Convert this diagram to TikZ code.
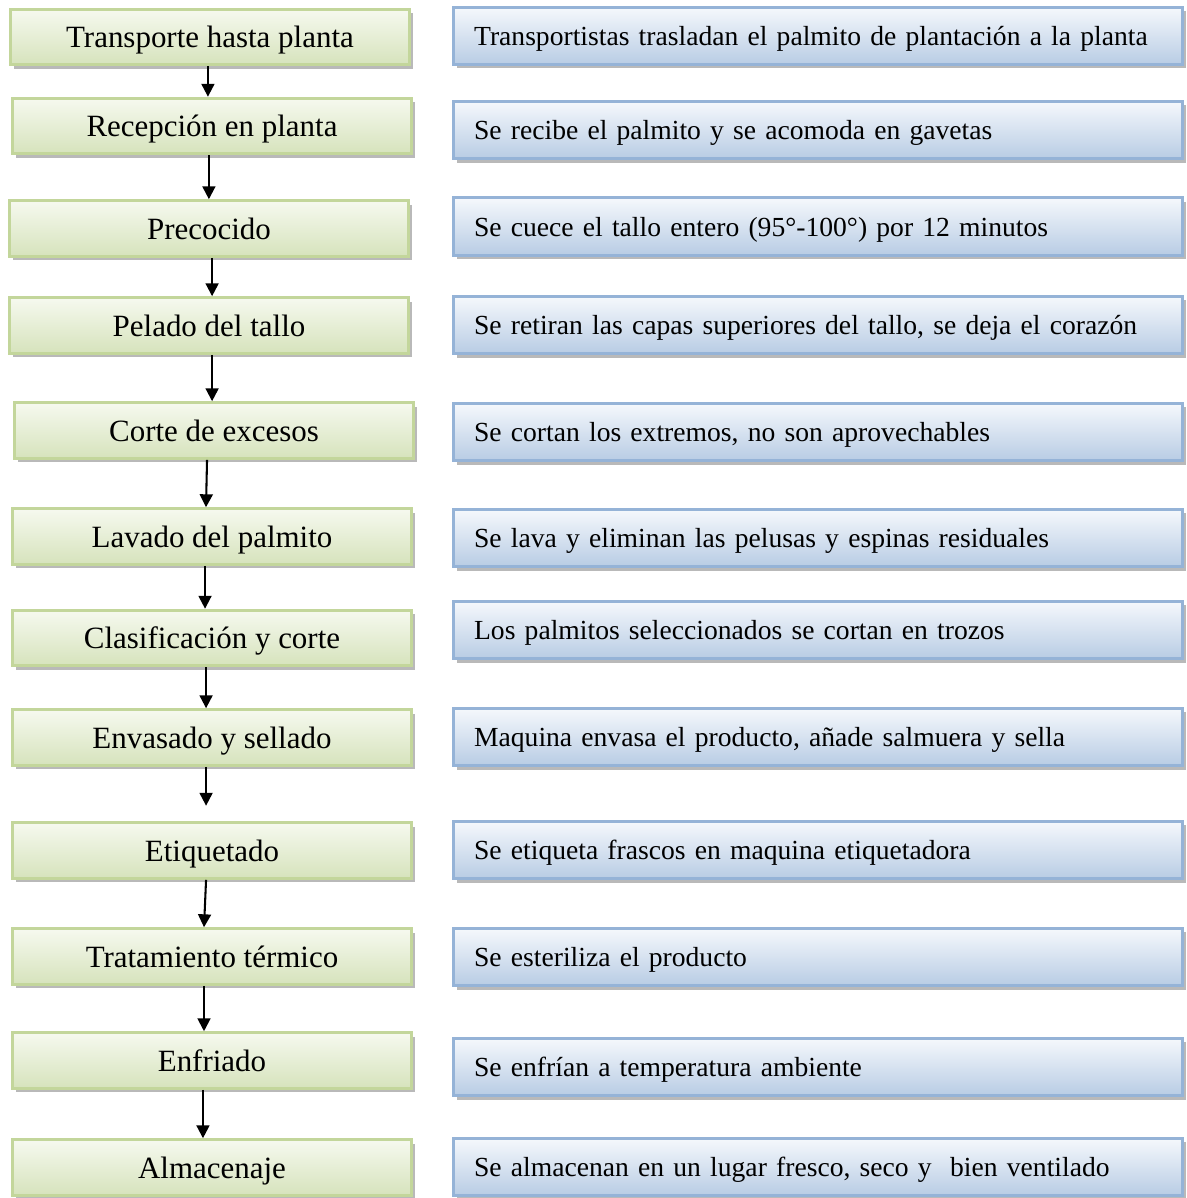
\documentclass[tikz,border=0pt]{standalone}
\usepackage{fontspec}
\setmainfont{Liberation Serif}
\usetikzlibrary{arrows.meta, shadows}

\definecolor{stageline}{HTML}{C3D69B}
\definecolor{stagetop}{HTML}{F6F9EF}
\definecolor{stagebottom}{HTML}{D6E3BC}
\definecolor{noteline}{HTML}{95B3D7}
\definecolor{notetop}{HTML}{F5F8FC}
\definecolor{notebottom}{HTML}{B8CCE4}

\begin{document}
\begin{tikzpicture}[
    x=0.3876pt, y=-0.3876pt,
    stage/.style={
        rectangle,
        draw=stageline,
        line width=1.1pt,
        top color=stagetop,
        bottom color=stagebottom,
        minimum width=154.7pt,
        minimum height=21.6pt,
        inner sep=0pt,
        align=center,
        text depth=0pt,
        font=\fontsize{12}{14}\selectfont,
        drop shadow={shadow xshift=1.2pt, shadow yshift=-1.5pt, fill=gray!55, opacity=1},
    },
    note/.style={
        rectangle,
        draw=noteline,
        line width=1.1pt,
        top color=notetop,
        bottom color=notebottom,
        minimum width=282.6pt,
        minimum height=22.2pt,
        inner xsep=8pt,
        inner ysep=0pt,
        text width=266.6pt,
        text depth=0pt,
        align=left,
        font=\fontsize{10.7}{13}\selectfont,
        drop shadow={shadow xshift=1.2pt, shadow yshift=-1.5pt, fill=gray!55, opacity=1},
    },
    flow/.style={
        line width=0.8pt,
        -{Triangle[width=5pt, length=5pt]},
    }
]
    \useasboundingbox (0,0) rectangle (1186,1198);

    % Stages
    \node[stage] (transporte)    at (210,37)     {Transporte hasta planta};
    \node[stage] (recepcion)     at (212,126)    {Recepción en planta};
    \node[stage] (precocido)     at (209,228.5)  {Precocido};
    \node[stage] (pelado)        at (209,325.5)  {Pelado del tallo};
    \node[stage] (corte)         at (214,430.5)  {Corte de excesos};
    \node[stage] (lavado)        at (212,536.5)  {Lavado del palmito};
    \node[stage] (clasificacion) at (212,638)    {Clasificación y corte};
    \node[stage] (envasado)      at (212,737.5)  {Envasado y sellado};
    \node[stage] (etiquetado)    at (212,850.5)  {Etiquetado};
    \node[stage] (tratamiento)   at (212,956.5)  {Tratamiento térmico};
    \node[stage] (enfriado)      at (212,1060.5) {Enfriado};
    \node[stage] (almacenaje)    at (212,1167.5) {Almacenaje};

    % Descriptions
    \node[note] (transporte-d)    at (818,36)   {Transportistas trasladan el palmito de plantación a la planta};
    \node[note] (recepcion-d)     at (818,130)  {Se recibe el palmito y se acomoda en gavetas};
    \node[note] (precocido-d)     at (818,226.5){Se cuece el tallo entero (95°-100°) por 12 minutos};
    \node[note] (pelado-d)        at (818,325)  {Se retiran las capas superiores del tallo, se deja el corazón};
    \node[note] (corte-d)         at (818,432)  {Se cortan los extremos, no son aprovechables};
    \node[note] (lavado-d)        at (818,538)  {Se lava y eliminan las pelusas y espinas residuales};
    \node[note] (clasificacion-d) at (818,630)  {Los palmitos seleccionados se cortan en trozos};
    \node[note] (envasado-d)      at (818,737)  {Maquina envasa el producto, añade salmuera y sella};
    \node[note] (etiquetado-d)    at (818,850)  {Se etiqueta frascos en maquina etiquetadora};
    \node[note] (tratamiento-d)   at (818,957)  {Se esteriliza el producto};
    \node[note] (enfriado-d)      at (818,1067) {Se enfrían a temperatura ambiente};
    \node[note] (almacenaje-d)    at (818,1167) {Se almacenan en un lugar fresco, seco y \ bien ventilado};

    % Flow
    \draw[flow] ([xshift=-0.8pt]transporte.south) -- ([xshift=-0.8pt]transporte.south |- recepcion.north);
    \draw[flow] ([xshift=-1.2pt]recepcion.south) -- ([xshift=-1.2pt]recepcion.south |- precocido.north);
    \draw[flow] ([xshift=1.2pt]precocido.south) -- ([xshift=1.2pt]precocido.south |- pelado.north);
    \draw[flow] ([xshift=1.2pt]pelado.south) -- ([xshift=1.2pt]pelado.south |- corte.north);
    \draw[flow] ([xshift=-2.7pt]corte.south) -- ([xshift=-3.1pt]corte.south |- lavado.north);
    \draw[flow] ([xshift=-2.7pt]lavado.south) -- ([xshift=-2.7pt]lavado.south |- clasificacion.north);
    \draw[flow] ([xshift=-2.3pt]clasificacion.south) -- ([xshift=-2.3pt]clasificacion.south |- envasado.north);
    \draw[flow, shorten >=6pt] ([xshift=-2.3pt]envasado.south) -- ([xshift=-2.3pt]envasado.south |- etiquetado.north);
    \draw[flow] ([xshift=-2.3pt]etiquetado.south) -- ([xshift=-3.1pt]etiquetado.south |- tratamiento.north);
    \draw[flow] ([xshift=-3.1pt]tratamiento.south) -- ([xshift=-3.1pt]tratamiento.south |- enfriado.north);
    \draw[flow] ([xshift=-3.5pt]enfriado.south) -- ([xshift=-3.5pt]enfriado.south |- almacenaje.north);
\end{tikzpicture}
\end{document}
